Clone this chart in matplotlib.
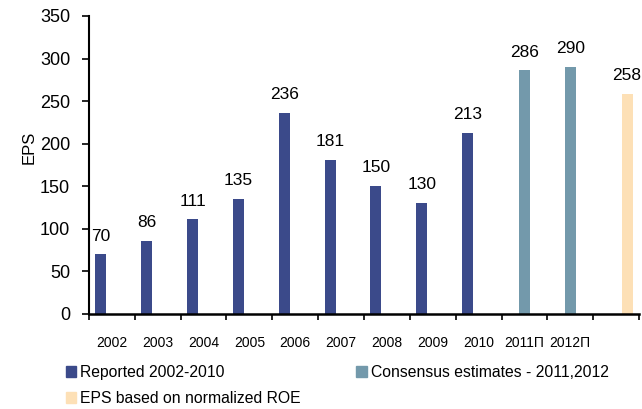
import numpy as np
import matplotlib.pyplot as plt
from matplotlib.patches import Patch

plt.rcParams['font.family'] = ['Liberation Sans', 'DejaVu Sans']

# EPS history, consensus forecasts and normalized-ROE estimate
years = ['2002', '2003', '2004', '2005', '2006', '2007', '2008', '2009', '2010', '2011П', '2012П']
reported = [70, 86, 111, 135, 236, 181, 150, 130, 213]
consensus = [286, 290]
normalized = [258]

C_REP = '#3b4a8a'
C_CONS = '#7399ab'
C_NORM = '#fde0b6'

n_slots = 12
width = 0.24

fig = plt.figure(figsize=(6.42, 4.09), dpi=100)
ax = fig.add_axes([89 / 642, 95 / 409, 550 / 642, 298 / 409])

x_rep = np.arange(len(reported))
x_cons = np.arange(len(reported), len(reported) + len(consensus))
x_norm = np.arange(n_slots - len(normalized), n_slots)

b1 = ax.bar(x_rep - width, reported, width, color=C_REP)
b2 = ax.bar(x_cons, consensus, width, color=C_CONS)
b3 = ax.bar(x_norm + width, normalized, width, color=C_NORM)

for bars, vals in ((b1, reported), (b2, consensus), (b3, normalized)):
    for rect, v in zip(bars, vals):
        ax.annotate(f'{v}', (rect.get_x() + rect.get_width() / 2, v),
                    xytext=(0, 10), textcoords='offset points',
                    ha='center', va='baseline', fontsize=12.5)

ax.set_xlim(-0.5, n_slots - 0.5)
ax.set_ylim(0, 350)
ax.set_yticks(np.arange(0, 351, 50))
ax.tick_params(axis='y', labelsize=13, length=5, width=1.2, direction='out', pad=8.5)

# tick marks on the category boundaries, labels under the category centres
ax.set_xticks(np.arange(-0.5, n_slots, 1.0), minor=True)
ax.tick_params(axis='x', which='minor', length=4, width=1.2, direction='out')
ax.set_xticks(np.arange(len(years)))
ax.set_xticklabels(years)
ax.tick_params(axis='x', which='major', length=0, labelsize=10, pad=15.5)

for side in ('top', 'right'):
    ax.spines[side].set_visible(False)
ax.spines['left'].set_linewidth(1.5)
ax.spines['bottom'].set_linewidth(1.8)

ax.set_ylabel('EPS', fontsize=12)
ax.yaxis.set_label_coords(-0.096, 0.56)

handles = [Patch(color=C_REP), Patch(color=C_NORM), Patch(color=C_CONS)]
labels = ['Reported 2002-2010', 'EPS based on normalized ROE',
          'Consensus estimates - 2011,2012']
fig.legend(handles, labels, ncol=2, loc='upper left',
           bbox_to_anchor=(66 / 642, 44 / 409), frameon=False,
           fontsize=11.3, handlelength=0.65, handleheight=0.65,
           handletextpad=0.25, labelspacing=0.7, columnspacing=3.55,
           borderpad=0, borderaxespad=0)

fig.savefig('out.png', dpi=100)
